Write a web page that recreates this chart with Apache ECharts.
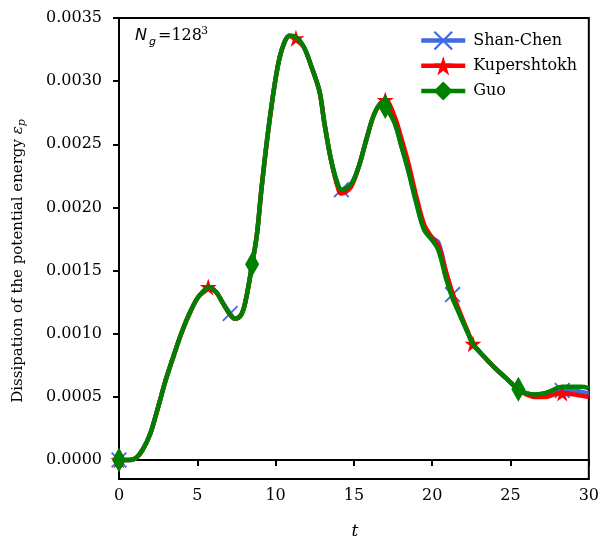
<!DOCTYPE html>
<html>
<head>
<meta charset="utf-8">
<script src="https://cdn.jsdelivr.net/npm/echarts@6/dist/echarts.min.js"></script>
<style>
  html, body { margin: 0; padding: 0; background: #fff; }
  #chart { width: 602px; height: 541px; }
</style>
</head>
<body>
<div id="chart"></div>
<script>
// Sample times shared by the three runs
const timeGrid = [
  0, 0.5, 1, 1.5, 2, 2.5, 3, 3.5, 4, 4.5,
  5, 5.5, 5.7, 6.2, 6.6, 7.1, 7.4, 7.8, 8.1, 8.5,
  8.8, 9.1, 9.5, 10, 10.4, 10.9, 11.3, 11.8, 12.3, 12.8,
  13.1, 13.5, 13.9, 14.2, 14.8, 15.3, 15.8, 16.3, 16.8, 17.0,
  17.6, 18, 18.5, 19, 19.5, 20, 20.4, 20.9, 21.3, 21.8,
  22.3, 22.6, 23.3, 24, 24.7, 25.5, 26, 26.6, 27.2, 27.8,
  28.3, 29, 29.5, 30
];

// Dissipation of the potential energy for each forcing scheme
const shanChen = [
  0, 0.0, 0.00001, 0.00008, 0.00021, 0.00042, 0.00064, 0.00083, 0.00101, 0.00116,
  0.00128, 0.00135, 0.00137, 0.00133, 0.00125, 0.00116, 0.00112, 0.00115, 0.00127, 0.00155,
  0.00178, 0.00215, 0.00258, 0.00302, 0.00325, 0.00336, 0.00335, 0.00327, 0.00311, 0.00292,
  0.00268, 0.00240, 0.00221, 0.00214, 0.00218, 0.00232, 0.00254, 0.00274, 0.00283, 0.00281,
  0.00267, 0.00250, 0.00228, 0.00203, 0.00182, 0.00176, 0.00172, 0.00148, 0.00131, 0.00114,
  0.00100, 0.00092, 0.00082, 0.00073, 0.00065, 0.00056, 0.00053, 0.00052, 0.00053, 0.00054,
  0.00055, 0.00055, 0.00054, 0.00053
];

const kupershtokh = [
  0, 0.0, 0.00001, 0.00008, 0.00021, 0.00042, 0.00064, 0.00083, 0.00101, 0.00116,
  0.00128, 0.00135, 0.00137, 0.00133, 0.00125, 0.00115, 0.00112, 0.00115, 0.00127, 0.00155,
  0.00178, 0.00215, 0.00258, 0.00302, 0.00325, 0.00336, 0.00334, 0.00327, 0.00311, 0.00292,
  0.00268, 0.00240, 0.00219, 0.00211, 0.00216, 0.00232, 0.00254, 0.00274, 0.00284, 0.00285,
  0.00272, 0.00256, 0.00234, 0.00208, 0.00186, 0.00176, 0.00170, 0.00148, 0.00132, 0.00116,
  0.00101, 0.00092, 0.00082, 0.00073, 0.00065, 0.00056, 0.00052, 0.00050, 0.00050, 0.00052,
  0.00053, 0.00052, 0.00051, 0.00050
];

const guo = [
  0, 0.0, 0.00001, 0.00008, 0.00021, 0.00042, 0.00064, 0.00083, 0.00101, 0.00116,
  0.00128, 0.00135, 0.00137, 0.00133, 0.00125, 0.00115, 0.00112, 0.00115, 0.00127, 0.00155,
  0.00178, 0.00215, 0.00258, 0.00302, 0.00325, 0.00336, 0.00335, 0.00327, 0.00311, 0.00292,
  0.00268, 0.00240, 0.00221, 0.00214, 0.00218, 0.00232, 0.00254, 0.00274, 0.00283, 0.00280,
  0.00267, 0.00250, 0.00228, 0.00203, 0.00182, 0.00174, 0.00166, 0.00143, 0.00128, 0.00114,
  0.00100, 0.00092, 0.00082, 0.00073, 0.00065, 0.00056, 0.00053, 0.00052, 0.00053, 0.00056,
  0.00058, 0.00058, 0.00058, 0.00057
];

// Times at which each curve carries a marker
const markShanChen = [0, 7.1, 14.2, 21.3, 28.3];
const markKupershtokh = [0, 5.7, 11.3, 17.0, 22.6, 28.3];
const markGuo = [0, 8.5, 17.0, 25.5];

const yTicks = [0, 0.0005, 0.0010, 0.0015, 0.0020, 0.0025, 0.0030, 0.0035];

const SERIF = '"DejaVu Serif", serif';

const X_SYMBOL = 'path://M0,8 L8,0 L50,42 L92,0 L100,8 L58,50 L100,92 L92,100 L50,58 L8,100 L0,92 L42,50 Z';
const STAR_SYMBOL = 'path://M100,0 L122.45,69.1 L195.1,69.1 L136.3,111.8 L158.8,180.9 L100,138.2 L41.2,180.9 L63.7,111.8 L4.9,69.1 L77.55,69.1 Z';

function buildData(values, marks) {
  return timeGrid.map((t, i) => {
    const hasMark = marks.some(m => Math.abs(m - t) < 1e-9);
    return hasMark ? { value: [t, values[i]] } : { value: [t, values[i]], symbol: 'none' };
  });
}

function lineSeries(name, values, marks, color, symbol, symbolSize, z) {
  return {
    name: name,
    type: 'line',
    data: buildData(values, marks),
    smooth: 0.35,
    symbol: symbol,
    symbolSize: symbolSize,
    showSymbol: true,
    showAllSymbol: true,
    clip: true,
    z: z,
    lineStyle: { color: color, width: 4.5 },
    itemStyle: { color: color, borderWidth: 0 },
    emphasis: { disabled: true },
    animation: false
  };
}

const chart = echarts.init(document.getElementById('chart'), null, { renderer: 'canvas' });

chart.setOption({
  animation: false,
  backgroundColor: '#fff',
  grid: {
    left: 119, right: 11, top: 18, bottom: 62,
    show: true, borderColor: '#000', borderWidth: 2, backgroundColor: 'transparent'
  },
  legend: {
    orient: 'vertical',
    left: 414,
    top: 26,
    itemWidth: 44,
    itemHeight: 24,
    itemGap: 6,
    lineStyle: { width: 4.5 },
    textStyle: { fontFamily: SERIF, fontSize: 16, color: '#000', padding: [0, 0, 0, 3] },
    data: ['Shan-Chen', 'Kupershtokh', 'Guo']
  },
  xAxis: {
    type: 'value',
    min: 0, max: 30, interval: 5,
    axisLine: { show: true, lineStyle: { color: '#000', width: 2 } },
    axisTick: { show: true, inside: false, length: 6, lineStyle: { color: '#000', width: 2 } },
    axisLabel: { fontFamily: SERIF, fontSize: 16, color: '#000', margin: 9 },
    splitLine: { show: false }
  },
  yAxis: {
    type: 'value',
    min: -0.00015, max: 0.0035,
    axisLine: { show: true, lineStyle: { color: '#000', width: 2 } },
    axisTick: { show: true, inside: false, length: 6, lineStyle: { color: '#000', width: 2 }, customValues: yTicks },
    axisLabel: {
      fontFamily: SERIF, fontSize: 16, color: '#000', margin: 17,
      customValues: yTicks,
      formatter: v => v.toFixed(4)
    },
    splitLine: { show: false }
  },
  graphic: [
    {
      type: 'text', x: 18, y: 261, rotation: Math.PI / 2,
      style: {
        text: 'Dissipation of the potential energy {it|ε}{sub|p}',
        fontFamily: SERIF, fontSize: 15, fill: '#000',
        align: 'center', verticalAlign: 'middle',
        rich: {
          it: { fontFamily: SERIF, fontStyle: 'italic', fontSize: 15 },
          sub: { fontFamily: SERIF, fontStyle: 'italic', fontSize: 11, padding: [8, 0, 0, 0] }
        }
      }
    },
    {
      type: 'text', x: 355, y: 532,
      style: { text: 't', fontFamily: SERIF, fontStyle: 'italic', fontSize: 17, fill: '#000', align: 'center', verticalAlign: 'middle' }
    },
    {
      type: 'text', x: 135, y: 36,
      style: { text: 'N', fontFamily: '"DejaVu Sans", sans-serif', fontStyle: 'italic', fontSize: 16, fill: '#000', align: 'left', verticalAlign: 'middle' }
    },
    {
      type: 'text', x: 149, y: 42,
      style: { text: 'g', fontFamily: '"DejaVu Sans", sans-serif', fontStyle: 'italic', fontSize: 11, fill: '#000', align: 'left', verticalAlign: 'middle' }
    },
    {
      type: 'text', x: 158, y: 36,
      style: { text: '=128', fontFamily: SERIF, fontSize: 16, fill: '#000', align: 'left', verticalAlign: 'middle' }
    },
    {
      type: 'text', x: 201, y: 31,
      style: { text: '3', fontFamily: SERIF, fontSize: 11, fill: '#000', align: 'left', verticalAlign: 'middle' }
    }
  ],
  series: [
    lineSeries('Shan-Chen', shanChen, markShanChen, '#4169E1', X_SYMBOL, 16, 2),
    lineSeries('Kupershtokh', kupershtokh, markKupershtokh, '#FF0000', STAR_SYMBOL, 17, 3),
    lineSeries('Guo', guo, markGuo, '#008000', 'diamond', [14, 25], 4)
  ]
});
</script>
</body>
</html>
